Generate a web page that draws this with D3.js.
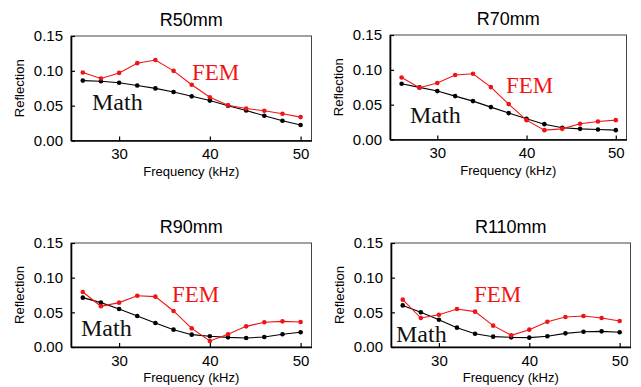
<!DOCTYPE html>
<html>
<head>
<meta charset="utf-8">
<script src="https://cdn.jsdelivr.net/npm/d3@7"></script>
<style>
  body { margin: 0; background: #fff; }
  svg { display: block; }
</style>
</head>
<body>
<svg id="chart" width="641" height="387"></svg>
<script>
const freq = [26, 28, 30, 32, 34, 36, 38, 40, 42, 44, 46, 48, 50];
const titles = ["R50mm", "R70mm", "R90mm", "R110mm"];
const femR50 = [0.0975, 0.089, 0.097, 0.111, 0.1155, 0.100, 0.080, 0.062, 0.0506, 0.0459, 0.0426, 0.0383, 0.0336];
const mathR50 = [0.086, 0.085, 0.083, 0.079, 0.0748, 0.0696, 0.0634, 0.0573, 0.050, 0.0431, 0.0355, 0.0284, 0.0222];
const femR70 = [0.089, 0.0743, 0.081, 0.0925, 0.0944, 0.0752, 0.0508, 0.0278, 0.0134, 0.0153, 0.0225, 0.0259, 0.0278];
const mathR70 = [0.080, 0.0748, 0.0695, 0.0623, 0.0551, 0.0465, 0.0379, 0.0297, 0.022, 0.0168, 0.0153, 0.0144, 0.0134];
const femR90 = [0.0793, 0.0587, 0.064, 0.074, 0.0726, 0.052, 0.0269, 0.0087, 0.0183, 0.0298, 0.0356, 0.037, 0.036];
const mathR90 = [0.0712, 0.064, 0.0548, 0.0447, 0.0346, 0.025, 0.0178, 0.0154, 0.0139, 0.013, 0.0144, 0.0183, 0.0212];
const femR110 = [0.0683, 0.0418, 0.0466, 0.0548, 0.051, 0.0308, 0.0168, 0.025, 0.0365, 0.0433, 0.0447, 0.0418, 0.0375];
const mathR110 = [0.060, 0.050, 0.0394, 0.0279, 0.0192, 0.0149, 0.0139, 0.0135, 0.0154, 0.0197, 0.0221, 0.0226, 0.0212];
const xTicks = [30, 40, 50];
const yTicks = [0, 0.05, 0.10, 0.15];

const femAll = [femR50, femR70, femR90, femR110];
const mathAll = [mathR50, mathR70, mathR90, mathR110];

// panel boxes + label spots
const panels = [
  {l: 71, r: 311.5, t: 36, b: 140.5, fem: [192, 80], math: [92, 110]},
  {l: 390, r: 626.5, t: 35, b: 139.5, fem: [506, 93], math: [410, 123]},
  {l: 71, r: 311.5, t: 243, b: 347, fem: [172, 302], math: [81, 336]},
  {l: 391, r: 630.5, t: 243, b: 347, fem: [474, 302], math: [396, 342]}
];

const red = "#f01414";
const svg = d3.select("#chart");

panels.forEach((p, i) => {
  const x = d3.scaleLinear().domain([24.7, 51.2]).range([p.l, p.r]);
  const y = d3.scaleLinear().domain([0, 0.15]).range([p.b, p.t]);
  const g = svg.append("g");

  // thin frame
  g.append("rect")
    .attr("x", p.l).attr("y", p.t)
    .attr("width", p.r - p.l).attr("height", p.b - p.t)
    .attr("fill", "none").attr("stroke", "#444").attr("stroke-width", 1);

  const xAxis = g.append("g")
    .attr("transform", "translate(0," + p.b + ")")
    .call(d3.axisBottom(x).tickValues(xTicks).tickSizeInner(-4).tickSizeOuter(0).tickPadding(8));
  const yAxis = g.append("g")
    .attr("transform", "translate(" + p.l + ",0)")
    .call(d3.axisLeft(y).tickValues(yTicks).tickFormat(d3.format(".2f")).tickSizeInner(-4).tickSizeOuter(0).tickPadding(8));

  [xAxis, yAxis].forEach(a => {
    a.select(".domain").attr("stroke", "#000").attr("stroke-width", 1.6);
    a.selectAll(".tick line").attr("stroke", "#000").attr("stroke-width", 1.2);
    a.selectAll(".tick text")
      .attr("fill", "#000")
      .style("font-family", "Liberation Sans, Arial, sans-serif")
      .style("font-size", "15px");
  });

  g.append("text")
    .attr("x", (p.l + p.r) / 2).attr("y", p.t - 10)
    .attr("text-anchor", "middle")
    .style("font-family", "Liberation Sans, Arial, sans-serif")
    .style("font-size", "18px")
    .text(titles[i]);

  g.append("text")
    .attr("x", (p.l + p.r) / 2).attr("y", p.b + 35)
    .attr("text-anchor", "middle")
    .style("font-family", "Liberation Sans, Arial, sans-serif")
    .style("font-size", "13px")
    .text("Frequency (kHz)");

  g.append("text")
    .attr("transform", "translate(" + (p.l - 47) + "," + ((p.t + p.b) / 2) + ") rotate(-90)")
    .attr("text-anchor", "middle")
    .style("font-family", "Liberation Sans, Arial, sans-serif")
    .style("font-size", "13px")
    .text("Reflection");

  const line = d3.line().x((d, j) => x(freq[j])).y(d => y(d));

  [[mathAll[i], "#000"], [femAll[i], red]].forEach(([vals, col]) => {
    g.append("path").datum(vals)
      .attr("d", line).attr("fill", "none")
      .attr("stroke", col).attr("stroke-width", 1.1);
    g.selectAll(null).data(vals).enter().append("circle")
      .attr("cx", (d, j) => x(freq[j])).attr("cy", d => y(d))
      .attr("r", 2.3).attr("fill", col);
  });

  g.append("text")
    .attr("x", p.fem[0]).attr("y", p.fem[1])
    .attr("fill", red)
    .style("font-family", "Liberation Serif, Times New Roman, serif")
    .style("font-size", "23px")
    .text("FEM");
  g.append("text")
    .attr("x", p.math[0]).attr("y", p.math[1])
    .attr("fill", "#111")
    .style("font-family", "Liberation Serif, Times New Roman, serif")
    .style("font-size", "24px")
    .text("Math");
});
</script>
</body>
</html>
